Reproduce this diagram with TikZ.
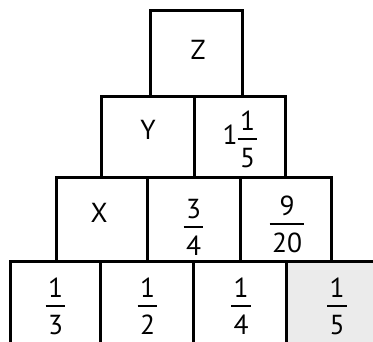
\documentclass[tikz,border=0pt]{standalone}
\usepackage{fontspec}
\setmainfont{PT Sans}
\newcommand\fr[2]{{\setlength\arrayrulewidth{2pt}\begin{tabular}{@{\hspace{2.5pt}}c@{\hspace{2.5pt}}}#1\\[-1pt]\hline\rule{0pt}{27.5pt}#2\\[-9pt]\end{tabular}}}
\begin{document}
\begin{tikzpicture}[x=1pt,y=-1pt,
  cell/.style={draw=black, line width=3pt, rectangle, inner sep=0pt},
  lbl/.style={inner sep=0pt, font=\fontsize{27.5}{30}\selectfont},
  frlbl/.style={lbl, yshift=-0.7pt}]
\useasboundingbox (0,0) rectangle (373,342);
\clip (0,0) rectangle (373,342);
% row 1
\node[cell, minimum width=92pt, minimum height=85.7pt] (bz) at (196.7,53.85) {};
% row 2
\node[cell, minimum width=93pt, minimum height=80.6pt] (by) at (148.2,137) {};
\node[cell, minimum width=90.3pt, minimum height=80.6pt] (b2) at (239.85,137) {};
% row 3
\node[cell, minimum width=91pt, minimum height=84.4pt] (bx) at (102.2,219.5) {};
\node[cell, minimum width=92.3pt, minimum height=84.4pt] (b34) at (193.85,219.5) {};
\node[cell, minimum width=91.7pt, minimum height=84.4pt] (b920) at (285.85,219.5) {};
% row 4
\node[cell, minimum width=90.7pt, minimum height=90.3pt] (b13) at (55.35,306.85) {};
\node[cell, minimum width=92.6pt, minimum height=90.3pt] (b12) at (147,306.85) {};
\node[cell, minimum width=92.7pt, minimum height=90.3pt] (b14) at (239.65,306.85) {};
\node[cell, fill=black!8, minimum width=92pt, minimum height=90.3pt] (b15) at (332,306.85) {};
% labels
\node[lbl] (tz) at (198,50) {Z};
\node[lbl] (ty) at (148,130) {Y};
\node[frlbl] (t2) at (240,138) {1\fr{1}{5}};
\node[lbl] (tx) at (99,213) {X};
\node[frlbl] (t34) at (193.5,226) {\fr{3}{4}};
\node[frlbl] (t920) at (287,223) {\fr{9}{20}};
\node[frlbl] (t13) at (55.5,305) {\fr{1}{3}};
\node[frlbl] (t12) at (147.5,305) {\fr{1}{2}};
\node[frlbl] (t14) at (241,305) {\fr{1}{4}};
\node[frlbl] (t15) at (337,305) {\fr{1}{5}};
\end{tikzpicture}
\end{document}
